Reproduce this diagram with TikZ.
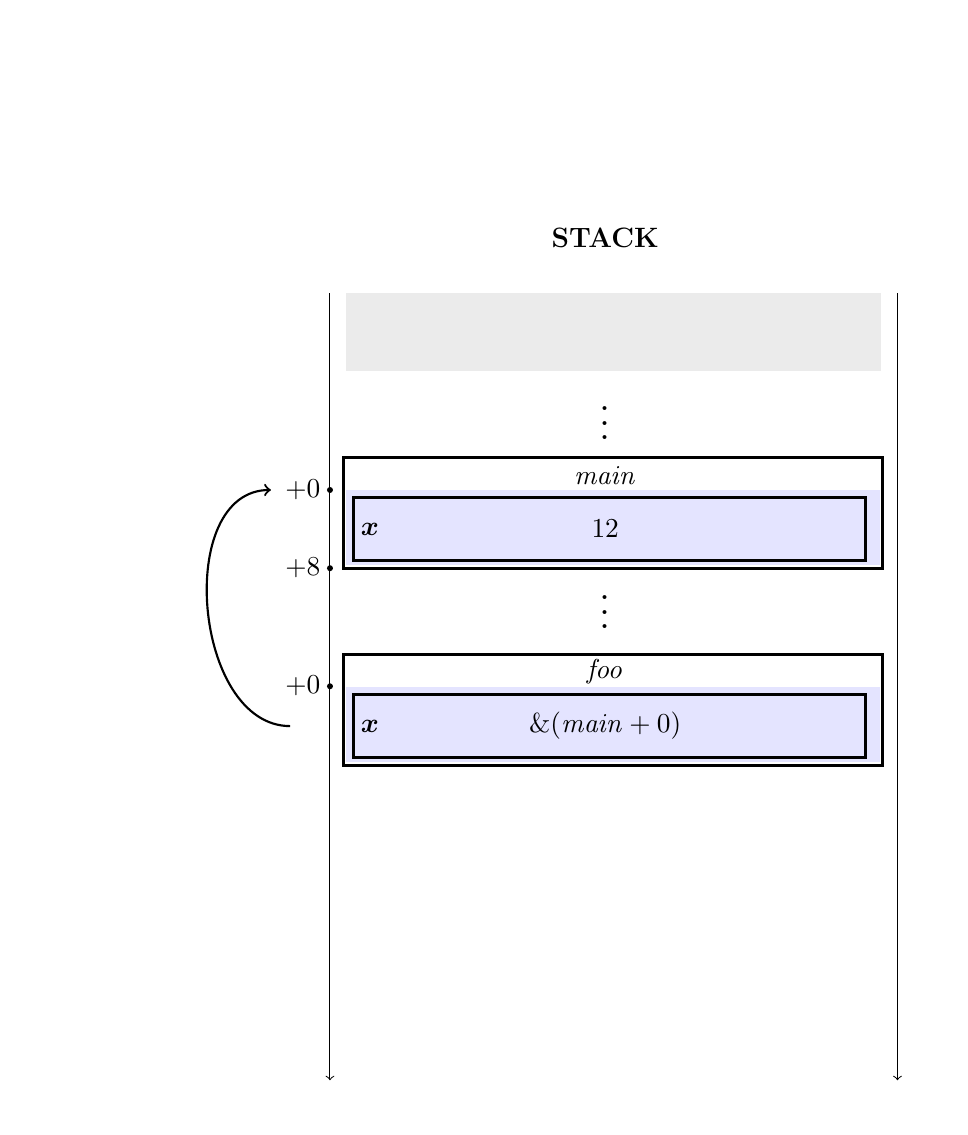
\documentclass[tikz,border=0pt]{standalone}
\usepackage{mathtools}
\usepackage{graphicx}
\usepackage{tikz}
\usetikzlibrary{positioning}

\definecolor{slotblue}{HTML}{E4E4FF}
\definecolor{usedgray}{HTML}{EBEBEB}

\newcommand{\bigvdots}{\scalebox{1.45}{$\vdots$}}

\tikzset{
  frame/.style={draw, very thick, minimum width=7.57cm, minimum height=1.55cm, inner sep=0pt},
  slot/.style={draw, very thick, minimum width=7.2cm, minimum height=0.89cm, inner sep=0pt},
  off/.style={circle, fill, inner sep=0pt, minimum size=2.4pt},
}

\begin{document}
\begin{tikzpicture}[line width=0.3mm, scale=1, font=\fontsize{11.2}{13.5}\selectfont]
  \useasboundingbox (0,0) rectangle (13.6,-15.96);

  \node(title) at (8.51,-3.35) {\textbf{STACK}};

  % stack borders
  \coordinate(ltop) at (4.64,-4.12);
  \coordinate(lbot) at (4.64,-15.19);
  \coordinate(rtop) at (12.62,-4.12);
  \coordinate(rbot) at (12.62,-15.19);
  \draw[->, line width=0.4pt] (ltop) -- (lbot);
  \draw[->, line width=0.4pt] (rtop) -- (rbot);

  \node(used)[fill=usedgray, minimum width=7.52cm, minimum height=1.1cm, inner sep=0pt] at (8.63,-4.67) {};
  \node(dots1) at (8.51,-5.80) {\bigvdots};

  % main
  \node(mainfr)[frame] at (8.62,-7.215) {};
  \fill[slotblue] (4.87,-6.89) rectangle (12.38,-7.95);
  \node(mainx)[slot] at (8.565,-7.435) {};
  \node at (8.51,-6.69) {$\mathit{main}$};
  \node at (5.20,-7.44) {$\boldsymbol{x}$};
  \node at (8.51,-7.44) {$12$};

  \node(dots2) at (8.51,-8.46) {\bigvdots};

  % foo
  \node(foofr)[frame] at (8.62,-9.985) {};
  \fill[slotblue] (4.87,-9.66) rectangle (12.38,-10.72);
  \node(foox)[slot] at (8.565,-10.205) {};
  \node at (8.51,-9.44) {$\mathit{foo}$};
  \node at (5.20,-10.21) {$\boldsymbol{x}$};
  \node at (8.51,-10.21) {$\&(\mathit{main}+0)$};

  % offsets
  \node(m0)[off] at (4.64,-6.89) {};
  \node(m8)[off] at (4.64,-7.99) {};
  \node(f0)[off] at (4.64,-9.65) {};
  \node(m0l)[left=-1.5pt of m0] {$+0$};
  \node(m8l)[left=-1.5pt of m8] {$+8$};
  \node(f0l)[left=-1.5pt of f0] {$+0$};

  \coordinate(ptr) at (4.08,-10.21);
  \draw[->] (ptr) to[out=180, in=180, looseness=1.05] ([xshift=-2pt]m0l.west);
\end{tikzpicture}
\end{document}
